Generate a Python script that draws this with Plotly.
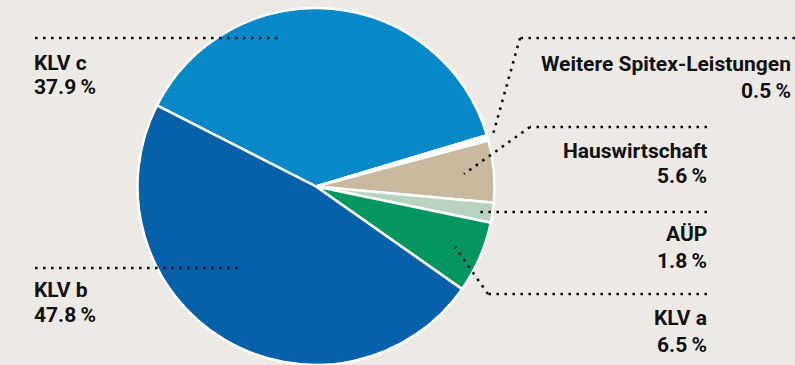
import plotly.graph_objects as go

W, H = 795, 365

# Data
categories = ["KLV c", "Weitere Spitex-Leistungen", "Hauswirtschaft", "AÜP", "KLV a", "KLV b"]
values = [37.9, 0.5, 5.6, 1.8, 6.5, 47.8]
value_labels = ["37.9\u2009%", "0.5\u2009%", "5.6\u2009%", "1.8\u2009%", "6.5\u2009%", "47.8\u2009%"]
colors = ["#0788c8", "#ffffff", "#c9b99f", "#b8d4be", "#03965f", "#0760aa"]

BG = "#edeae6"
TXT = "#111111"
FONT = "Roboto"
FS = 21

# pie geometry (pixels)
cx, cy, R = 316, 186.5, 178.5

def px(x):
    return min(1.0, max(0.0, x / W))

def py(y):
    return min(1.0, max(0.0, 1 - y / H))

fig = go.Figure(go.Pie(
    labels=categories,
    values=values,
    sort=False,
    direction="clockwise",
    rotation=-63,
    marker=dict(colors=colors, line=dict(color="white", width=2.5)),
    textinfo="none",
    hoverinfo="label+percent",
    domain=dict(x=[px(cx - R), px(cx + R)], y=[py(cy + R), py(cy - R)]),
    showlegend=False,
))

# label layout: x, anchor, y of name line center, y of value line center (pixels)
label_layout = {
    "KLV c": (32, "left", 62.5, 87.5),
    "KLV b": (32, "left", 289.5, 314.5),
    "Weitere Spitex-Leistungen": (793, "right", 64, 91),
    "Hauswirtschaft": (709, "right", 150.5, 176),
    "AÜP": (709, "right", 234, 261),
    "KLV a": (709, "right", 317.5, 344.5),
}

# leader lines as polylines (pixels)
leaders = {
    "KLV c": [(35, 38), (283, 38)],
    "KLV b": [(35, 268), (242, 268)],
    "Weitere Spitex-Leistungen": [(795, 38), (520, 38), (492, 138)],
    "Hauswirtschaft": [(707, 127), (530, 127), (464, 174)],
    "AÜP": [(707, 212), (480, 212)],
    "KLV a": [(707, 294), (488, 294), (455, 247)],
}

shapes = []
for name, pts in leaders.items():
    for (x0, y0), (x1, y1) in zip(pts[:-1], pts[1:]):
        shapes.append(dict(
            type="line", xref="paper", yref="paper",
            x0=px(x0), y0=py(y0), x1=px(x1), y1=py(y1),
            line=dict(color=TXT, width=2.6, dash="2.6px,5.4px"),
        ))

annotations = []
for name, vl in zip(categories, value_labels):
    x, anchor, y1, y2 = label_layout[name]
    for txt, yy in ((name, y1), (vl, y2)):
        annotations.append(dict(
            text=f"<b>{txt}</b>", x=px(x), y=py(yy), xref="paper", yref="paper",
            xanchor=anchor, yanchor="middle", showarrow=False,
            font=dict(family=FONT, size=FS, color=TXT), align=anchor,
        ))

fig.update_layout(
    width=W, height=H,
    margin=dict(l=0, r=0, t=0, b=0),
    paper_bgcolor=BG, plot_bgcolor=BG,
    shapes=shapes, annotations=annotations,
)

fig.write_html("out.html", config={"displayModeBar": False})
